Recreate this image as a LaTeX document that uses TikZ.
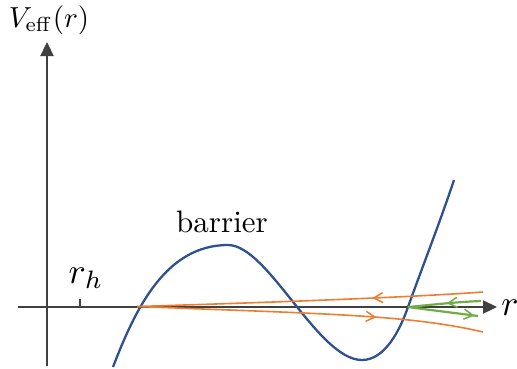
\documentclass[tikz,border=0pt]{standalone}
\usetikzlibrary{arrows.meta,decorations.markings}
\definecolor{curveblue}{HTML}{2F528F}
\definecolor{flow1}{HTML}{ED7D31}
\definecolor{flow2}{HTML}{70AD47}
\definecolor{axisgray}{HTML}{404040}
\tikzset{
  axisline/.style={draw=axisgray,line width=2.3pt,-{Triangle[length=14pt,width=13pt]}},
  potential/.style={draw=curveblue,line width=2.3pt},
  orangeflow/.style={draw=flow1,line width=1.6pt},
  greenflow/.style={draw=flow2,line width=2.2pt},
  midarrow/.style={postaction={decorate},decoration={markings,mark=at position #1 with {\arrow{Straight Barb[length=9pt,width=10pt,line width=1.5pt]}}}},
  lbl/.style={inner sep=0pt,anchor=base}
}
\begin{document}
\begin{tikzpicture}[x=1pt,y=-1pt]
\useasboundingbox (0,0) rectangle (517,368);
% axes
\coordinate (xs) at (18,307);
\coordinate (xe) at (497,307);
\coordinate (ys) at (47,366);
\coordinate (ye) at (47,42);
\draw[axisline] (xs) -- (xe);
\draw[axisline] (ys) -- (ye);
% tick r_h
\coordinate (rh) at (80,307);
\draw[axisgray,line width=1.6pt] (rh) -- ++(0,-8);
% labels
\node[lbl,scale=2.9] (vlab) at (49,27) {$V_{\mathrm{eff}}(r)$};
\node[lbl,scale=3.6,anchor=base west] (rhlab) at (68,283) {$r_h$};
\node[lbl,scale=3.6] (rlab) at (510,315) {$r$};
\node[lbl,scale=3.1] (blab) at (222,232) {barrier};
% potential
\draw[potential] (113,367) .. controls (135,310) and (165,245) .. (228,245)
  .. controls (268,245) and (318,360) .. (362,360)
  .. controls (385,360) and (400,330) .. (408,307)
  .. controls (422,268) and (440,222) .. (454,180);
% orange flows
\coordinate (o0) at (137,306.5);
\coordinate (ou) at (483,292);
\coordinate (ol) at (483,332);
\draw[orangeflow,midarrow=0.32] (ou) .. controls (400,298) and (250,303) .. (o0);
\draw[orangeflow,midarrow=0.69] (o0) .. controls (330,314) and (410,315) .. (ol);
% green flows
\coordinate (g0) at (408,307);
\coordinate (gu) at (481,301);
\coordinate (gl) at (478,316);
\draw[greenflow,midarrow=0.47] (gu) .. controls (455,302) and (430,305) .. (g0);
\draw[greenflow,midarrow=0.95] (g0) .. controls (430,310) and (455,313) .. (gl);
\end{tikzpicture}
\end{document}
